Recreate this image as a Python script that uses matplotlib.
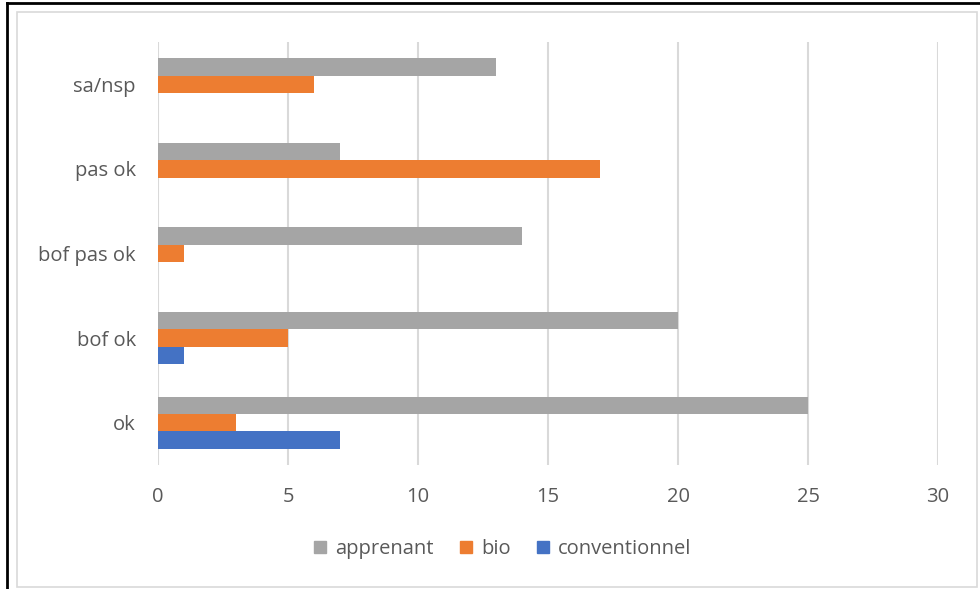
import matplotlib
matplotlib.use("Agg")
import matplotlib.pyplot as plt
from matplotlib.patches import Rectangle
from matplotlib.lines import Line2D
import numpy as np

categories = ["ok", "bof ok", "bof pas ok", "pas ok", "sa/nsp"]
series_names = ["conventionnel", "bio", "apprenant"]
conventionnel = [7, 1, 0, 0, 0]
bio = [3, 5, 1, 17, 6]
apprenant = [25, 20, 14, 7, 13]
colors = {"conventionnel": "#4472C4", "bio": "#ED7D31", "apprenant": "#A5A5A5"}
xticks = [0, 5, 10, 15, 20, 25, 30]

plt.rcParams['font.family'] = ['Open Sans', 'DejaVu Sans']
text_color = "#595959"
fs = 14.5

fig = plt.figure(figsize=(9.8, 5.89), dpi=100)
ax = fig.add_axes([158/980, 1-465/589, (938-158)/980, (465-42)/589])

y = np.arange(len(categories))
h = 0.205
data = {"conventionnel": conventionnel, "bio": bio, "apprenant": apprenant}
offsets = {"conventionnel": -h, "bio": 0.0, "apprenant": h}
for name in series_names:
    ax.barh(y + offsets[name], data[name], height=h, color=colors[name],
            label=name, zorder=3)

ax.set_xlim(0, 30)
ax.set_ylim(-0.5, len(categories) - 0.5)
ax.set_xticks(xticks)
ax.set_xticklabels([str(t) for t in xticks])
ax.set_yticks(y)
ax.set_yticklabels(categories)
ax.tick_params(axis='both', length=0, colors=text_color, labelsize=fs)
ax.tick_params(axis='y', pad=16)
ax.tick_params(axis='x', pad=16)
ax.grid(axis='x', color="#D9D9D9", linewidth=1.5, zorder=0)
for s in ax.spines.values():
    s.set_visible(False)

handles = [Rectangle((0, 0), 1, 1, color=colors[n]) for n in ["apprenant", "bio", "conventionnel"]]
leg = fig.legend(handles, ["apprenant", "bio", "conventionnel"], ncol=3,
                 loc='center', bbox_to_anchor=(503/980, 1-549/589), frameon=False,
                 handlelength=0.6, handleheight=0.6, handletextpad=0.45,
                 columnspacing=1.3, fontsize=fs)
for t in leg.get_texts():
    t.set_color(text_color)

# outer frame
fig.patches.append(Rectangle((17/980, 2/589), (977-17)/980, (587-12)/589,
                             transform=fig.transFigure, fill=False,
                             edgecolor="#D9D9D9", linewidth=1.2))
fig.add_artist(Line2D([7/980, 7/980], [0, 1-3/589], transform=fig.transFigure,
                      color="black", linewidth=2))
fig.add_artist(Line2D([7/980, 1], [1-3/589, 1-3/589], transform=fig.transFigure,
                      color="black", linewidth=2))

fig.savefig("out.png", dpi=100)
